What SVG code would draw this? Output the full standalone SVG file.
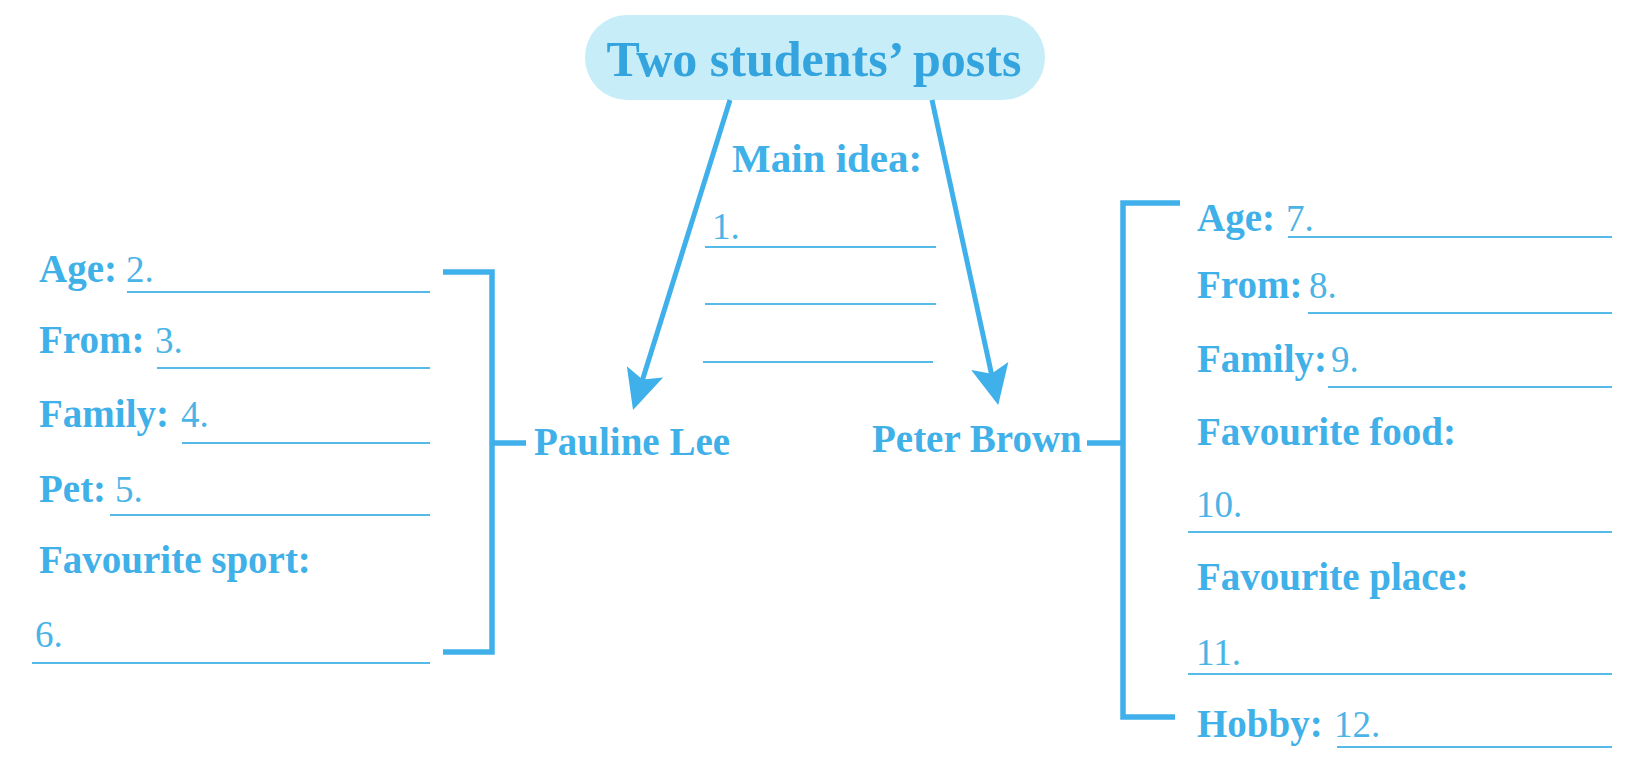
<svg xmlns="http://www.w3.org/2000/svg" width="1649" height="757" viewBox="0 0 1649 757">
<style>
text{font-family:"Liberation Serif","Times New Roman",serif;fill:#3fb0e8}
.b{font-weight:bold;font-size:39px}
.n{font-weight:normal;font-size:37px;fill:#4ab4e6}
.t{font-weight:bold;font-size:50px;fill:#34a4df}
.u{stroke:#55bae8;stroke-width:2;fill:none}
.br{stroke:#3fb0ea;stroke-width:5.5;fill:none;stroke-linecap:butt}
.ar{stroke:#3fb0ea;stroke-width:5;fill:none;marker-end:url(#head)}
</style>
<defs>
<marker id="head" markerUnits="userSpaceOnUse" orient="auto" refX="0" refY="0" markerWidth="60" markerHeight="60" overflow="visible">
<path d="M20,0 L-20,-19 L-12,0 L-20,19 Z" fill="#3fb0ea"/>
</marker>
</defs>
<rect width="1649" height="757" fill="#ffffff"/>

<g id="title">
<rect x="585" y="15" width="460" height="85" rx="42" ry="42" fill="#c7edf8"/>
<text class="t" x="814" y="76" text-anchor="middle">Two students’ posts</text>
</g>

<g id="connectors">
<line class="ar" x1="730" y1="100" x2="639" y2="391"/>
<line class="ar" x1="932" y1="100" x2="994" y2="385.5"/>
<path class="br" d="M443,272 H492 V652 H443 M492,443 H526"/>
<path class="br" d="M1180,203 H1123 V717 H1175 M1087,443 H1123"/>
</g>

<g id="main-idea">
<text class="b" x="732" y="172" style="font-size:41px">Main idea:</text>
<text class="n" x="712" y="239">1.</text>
<line class="u" x1="705" y1="247" x2="936" y2="247"/>
<line class="u" x1="705" y1="304" x2="936" y2="304"/>
<line class="u" x1="703" y1="362" x2="933" y2="362"/>
</g>

<g id="pauline">
<text class="b" x="534" y="455">Pauline Lee</text>
</g>

<g id="pauline-details">
<text class="b" x="39" y="282">Age:</text><text class="n" x="126" y="282">2.</text>
<line class="u" x1="127" y1="292" x2="430" y2="292"/>
<text class="b" x="39" y="353">From:</text><text class="n" x="155" y="353">3.</text>
<line class="u" x1="157" y1="368" x2="430" y2="368"/>
<text class="b" x="39" y="427">Family:</text><text class="n" x="181" y="427">4.</text>
<line class="u" x1="182" y1="443" x2="430" y2="443"/>
<text class="b" x="39" y="502">Pet:</text><text class="n" x="115" y="502">5.</text>
<line class="u" x1="110" y1="515" x2="430" y2="515"/>
<text class="b" x="39" y="573">Favourite sport:</text>
<text class="n" x="35" y="647">6.</text>
<line class="u" x1="32" y1="663" x2="430" y2="663"/>
</g>

<g id="peter">
<text class="b" x="872" y="452">Peter Brown</text>
</g>

<g id="peter-details">
<text class="b" x="1197" y="231">Age:</text><text class="n" x="1286" y="231">7.</text>
<line class="u" x1="1288" y1="237" x2="1612" y2="237"/>
<text class="b" x="1197" y="298">From:</text><text class="n" x="1309" y="298">8.</text>
<line class="u" x1="1308" y1="313" x2="1612" y2="313"/>
<text class="b" x="1197" y="372">Family:</text><text class="n" x="1331" y="372">9.</text>
<line class="u" x1="1328" y1="387" x2="1612" y2="387"/>
<text class="b" x="1197" y="445">Favourite food:</text>
<text class="n" x="1196" y="517">10.</text>
<line class="u" x1="1188" y1="532" x2="1612" y2="532"/>
<text class="b" x="1197" y="590">Favourite place:</text>
<text class="n" x="1196" y="665">11.</text>
<line class="u" x1="1188" y1="674" x2="1612" y2="674"/>
<text class="b" x="1197" y="737">Hobby:</text><text class="n" x="1334" y="737">12.</text>
<line class="u" x1="1337" y1="747" x2="1612" y2="747"/>
</g>
</svg>
